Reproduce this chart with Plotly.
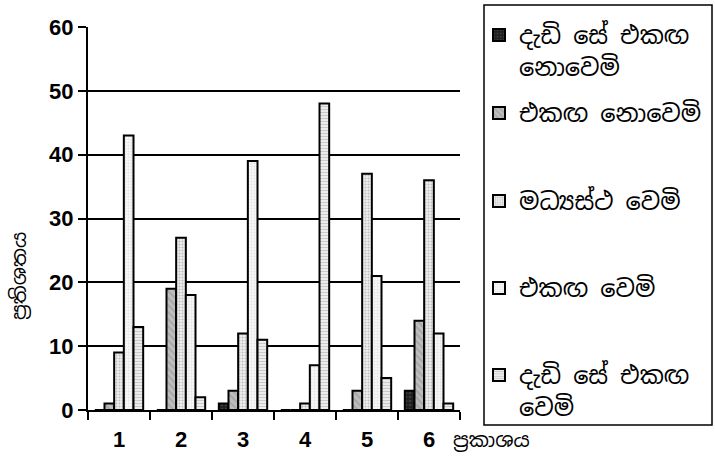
import plotly.graph_objects as go

# Survey responses (percent) for six statements
categories = ["1", "2", "3", "4", "5", "6"]
strongly_disagree = [0, 0, 1, 0, 0, 3]
disagree = [1, 19, 3, 0, 3, 14]
neutral = [9, 27, 12, 1, 37, 36]
agree = [43, 18, 39, 7, 21, 12]
strongly_agree = [13, 2, 11, 48, 5, 1]

y_ticks = [0, 10, 20, 30, 40, 50, 60]

series_names = [
    "දැඩි සේ එකඟ<br>නොවෙමි",
    "එකඟ නොවෙමි",
    "මධ්‍යස්ථ වෙමි",
    "එකඟ වෙමි",
    "දැඩි සේ එකඟ<br>වෙමි",
]
series_values = [strongly_disagree, disagree, neutral, agree, strongly_agree]

y_title = "ප්‍රතිශතය"
x_title = "ප්‍රකාශය"

SIN = "Noto Sans Sinhala, Iskoola Pota, Noto Sans, sans-serif"
BOLD = "Liberation Sans, Arial, sans-serif"

# fill styles: (background, pattern shape, pattern colour, pattern size)
styles = [
    ("#1e1e1e", ".", "#5a5a5a", 4),
    ("#bdbdbd", "\\", "#8e8e8e", 5),
    ("#eeeeee", ".", "#8c8c8c", 3),
    ("#f7f7f7", ".", "#d0d0d0", 3),
    ("#ececec", "-", "#a8a8a8", 3),
]

# plot area in pixels
W, H = 715, 468
L, R, T, B = 88, 460, 27, 410


def px_x(px):
    return (px - L) / (R - L)


def px_y(py):
    return (B - py) / (B - T)


legend_tops = [13, 91, 179, 266, 353]

fig = go.Figure()
for i, (name, vals) in enumerate(zip(series_names, series_values)):
    bg, shp, fg, sz = styles[i]
    lg = "legend" if i == 0 else f"legend{i + 1}"
    fig.add_trace(go.Bar(
        x=categories, y=vals, name=name, legend=lg,
        marker=dict(color=bg, line=dict(color="black", width=2),
                    pattern=dict(shape=shp, fgcolor=fg, bgcolor=bg,
                                 size=sz, solidity=0.35)),
    ))

legend_layout = {}
for i, top in enumerate(legend_tops):
    key = "legend" if i == 0 else f"legend{i + 1}"
    legend_layout[key] = dict(
        x=px_x(479), y=px_y(top), xanchor="left", yanchor="top",
        bgcolor="rgba(0,0,0,0)", borderwidth=0, valign="top",
        font=dict(family=SIN, size=24, color="black"),
    )

fig.update_layout(
    width=W, height=H,
    margin=dict(l=L, r=W - R, t=T, b=H - B, autoexpand=False),
    paper_bgcolor="white", plot_bgcolor="white",
    barmode="group", bargap=0.22, bargroupgap=0,
    showlegend=True,
    **legend_layout,
)

fig.update_yaxes(
    range=[0, 60], tickvals=y_ticks,
    ticktext=[f"<b>{v}</b>" for v in y_ticks],
    showgrid=True, gridcolor="black", gridwidth=2,
    showline=True, linecolor="black", linewidth=2,
    ticks="outside", ticklen=8, tickwidth=2, tickcolor="black",
    tickfont=dict(family=BOLD, size=22, color="black"),
    zeroline=False,
)
fig.update_xaxes(
    tickvals=categories,
    ticktext=[f"<b>{c}</b>" for c in categories],
    showline=True, linecolor="black", linewidth=2,
    ticks="outside", tickson="boundaries", ticklen=8, tickwidth=2,
    tickcolor="black",
    tickfont=dict(family=BOLD, size=22, color="black"),
    ticklabelstandoff=9,
)

# legend frame
fig.add_shape(type="rect", xref="paper", yref="paper",
              x0=px_x(484), x1=px_x(712), y0=px_y(425), y1=px_y(5),
              line=dict(color="black", width=1.5), fillcolor="rgba(0,0,0,0)")

fig.add_annotation(text=y_title, xref="paper", yref="paper",
                   x=px_x(19), y=px_y(276), xanchor="center", yanchor="middle",
                   textangle=-90, showarrow=False,
                   font=dict(family=SIN, size=20, color="black"))
fig.add_annotation(text=x_title, xref="paper", yref="paper",
                   x=px_x(451), y=px_y(440), xanchor="left", yanchor="middle",
                   showarrow=False,
                   font=dict(family=SIN, size=20, color="black"))

fig.write_html("out.html")
